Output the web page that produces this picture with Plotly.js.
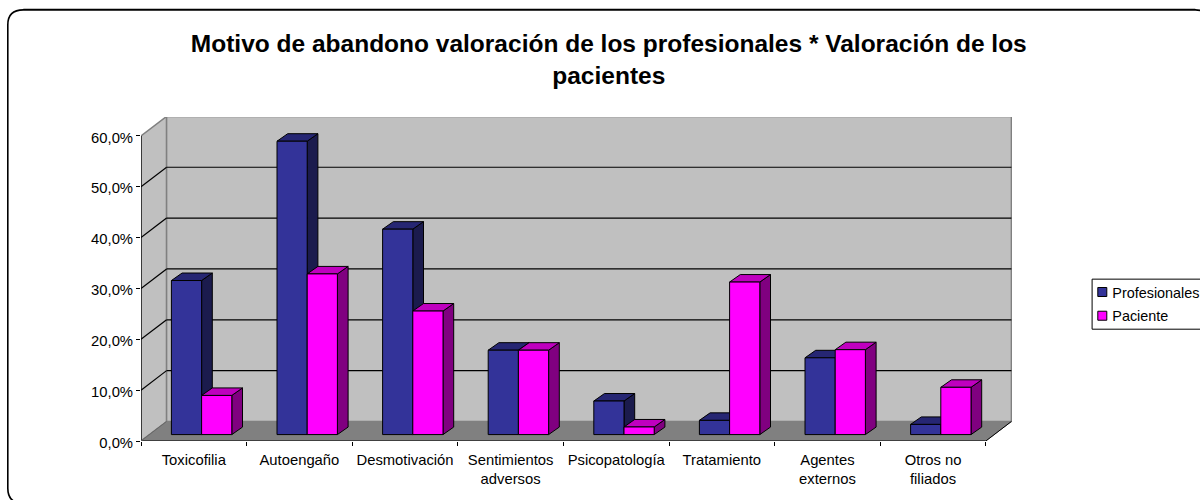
<!DOCTYPE html>
<html>
<head>
<meta charset="utf-8">
<script src="https://cdn.plot.ly/plotly-3.0.1.min.js"></script>
<style>html,body{margin:0;padding:0;background:#fff;overflow:hidden}</style>
</head>
<body>
<div id="chart" style="width:1200px;height:500px"></div>
<script>
const categories = ["Toxicofilia","Autoengaño","Desmotivación","Sentimientos<br>adversos","Psicopatología","Tratamiento","Agentes<br>externos","Otros no<br>filiados"];
const profesionales = [30.3, 57.7, 40.4, 16.6, 6.6, 2.8, 15.1, 2.0];
const paciente = [7.7, 31.6, 24.3, 16.6, 1.5, 30.0, 16.7, 9.3];
const yTicks = [0, 10, 20, 30, 40, 50, 60];
const yTickLabels = ["0,0%", "10,0%", "20,0%", "30,0%", "40,0%", "50,0%", "60,0%"];
const seriesNames = ["Profesionales", "Paciente"];

// Pixel layout of the pseudo-3D box
const W = 1200, H = 500;
const L = 140.7, R = 1011.7, T = 117, B = 440.7;
const catPx = 105.6, pctPx = 5.08;
const nCat = categories.length;
const xMax = (R - L) / catPx, yMax = (B - T) / pctPx;
const depthX = 25.6 / catPx, depthY = 19.5 / pctPx;      // wall depth
const barDX = 10.7 / catPx, barDY = 7.5 / pctPx;         // bar depth
const barW = 30.2 / catPx;
const centerShift = 7.8 / catPx, baseLift = 6.4 / pctPx; // bars stand mid-floor

const colors = {
  wall: "#C0C0C0", floor: "#808080", edge: "#808080",
  blue: "#333399", blueSide: "#1B1B4D", blueTop: "#262673",
  pink: "#FF00FF", pinkSide: "#800080", pinkTop: "#BF00BF"
};

const poly = (pts, fill, line, width) => ({
  type: "path", xref: "x", yref: "y", layer: "below",
  path: "M" + pts.map(p => p[0] + "," + p[1]).join("L") + "Z",
  fillcolor: fill, line: {color: line, width: width === undefined ? 1 : width}
});
const seg = (x0, y0, x1, y1, color, width) => ({
  type: "line", xref: "x", yref: "y", layer: "below",
  x0, y0, x1, y1, line: {color, width}
});

const shapes = [];
// walls and floor
shapes.push(poly([[0,0],[0,60],[depthX,60+depthY],[depthX,depthY]], colors.wall, colors.edge, 1.5));
shapes.push(poly([[depthX,depthY],[depthX,60+depthY],[nCat+depthX,60+depthY],[nCat+depthX,depthY]], colors.wall, colors.edge, 1.5));
shapes.push(poly([[0,0],[depthX,depthY],[nCat+depthX,depthY],[nCat,0]], colors.floor, colors.floor, 1));
// gridlines
yTicks.slice(1, -1).forEach(v => {
  shapes.push(seg(0, v, depthX, v + depthY, "#000", 1.2));
  shapes.push(seg(depthX, v + depthY, nCat + depthX, v + depthY, "#000", 1.2));
});
// front axis lines
shapes.push(seg(0, 0, 0, 60, "#000", 1.2));
shapes.push(seg(0, 0, nCat, 0, "#000", 1.2));
shapes.push(seg(nCat, 0, nCat + depthX, depthY, "#000", 1));
shapes.push(seg(0, 0, depthX, depthY, "#666", 1));

// 3D side and top faces of the bars, derived from the values
const barCentre = i => i + 0.5 + centerShift;
function faces(values, leftOf, side, top) {
  values.forEach((v, i) => {
    const x0 = leftOf(i), x1 = x0 + barW;
    const y0 = baseLift, y1 = baseLift + v;
    shapes.push(poly([[x1,y0],[x1,y1],[x1+barDX,y1+barDY],[x1+barDX,y0+barDY]], side, "#000", 1));
    shapes.push(poly([[x0,y1],[x0+barDX,y1+barDY],[x1+barDX,y1+barDY],[x1,y1]], top, "#000", 1));
  });
}
faces(profesionales, i => barCentre(i) - barW, colors.blueSide, colors.blueTop);
faces(paciente, i => barCentre(i), colors.pinkSide, colors.pinkTop);

// chart frame and legend box, in page pixels
const px = x => (x - L) / (R - L);
const py = y => (B - y) / (B - T);
const frame = (color, width) => ({
  type: "path", xref: "paper", yref: "paper", layer: "below",
  path: `M${px(7.5)},${py(25)} Q${px(7.5)},${py(10)} ${px(23)},${py(10)} L${px(1195)},${py(10)} Q${px(1210)},${py(10)} ${px(1210)},${py(25)} L${px(1210)},${py(488)} Q${px(1210)},${py(503)} ${px(1195)},${py(503)} L${px(23)},${py(503)} Q${px(7.5)},${py(503)} ${px(7.5)},${py(488)} Z`,
  line: {color, width}
});
shapes.unshift(frame("#000", 1.6));
shapes.unshift({type:"line", xref:"paper", yref:"paper", layer:"below",
  x0:px(23), x1:px(1195), y0:py(8.6), y1:py(8.6), line:{color:"#BDBDBD", width:1}});
shapes.push({type:"rect", xref:"paper", yref:"paper", layer:"below",
  x0:px(1091.8), x1:px(1215), y0:py(279), y1:py(329), line:{color:"#000", width:1}, fillcolor:"#fff"});

const trace = (name, values, leftOf, color) => ({
  type: "bar", name, legendgroup: name,
  x: values.map((v, i) => leftOf(i) + barW / 2),
  y: values, base: values.map(() => baseLift), width: barW,
  marker: {color, line: {color: "#000", width: 1}}, hoverinfo: "y+name"
});

const font = "Liberation Sans, Arial, sans-serif";
const data = [
  trace(seriesNames[0], profesionales, i => barCentre(i) - barW, colors.blue),
  trace(seriesNames[1], paciente, barCentre, colors.pink)
];
const layout = {
  width: W, height: H, autosize: false,
  paper_bgcolor: "#fff", plot_bgcolor: "rgba(0,0,0,0)",
  font: {family: font, size: 14.8, color: "#000"},
  barmode: "overlay",
  margin: {l: L, r: W - R, t: T, b: H - B, pad: 0, autoexpand: false},
  title: {
    text: "<b>Motivo de abandono valoración de los profesionales * Valoración de los<br>pacientes</b>",
    font: {family: font, size: 24.5, color: "#000"},
    x: px(608.5), xref: "paper", xanchor: "center",
    y: 1 - 52 / H, yref: "container", yanchor: "top"
  },
  xaxis: {
    range: [0, xMax], showgrid: false, zeroline: false, showline: false,
    tickmode: "array", tickvals: categories.map((c, i) => i + 0.5), ticktext: categories,
    ticks: "outside", ticklen: 5, tickcolor: "rgba(0,0,0,0)", tickangle: 0,
    minor: {tickmode: "array", tickvals: categories.map((c, i) => i).concat([nCat]),
            ticks: "outside", ticklen: 4, tickcolor: "#000", tickwidth: 1, showgrid: false},
    fixedrange: true
  },
  yaxis: {
    range: [0, yMax], showgrid: false, zeroline: false, showline: false,
    tickmode: "array", tickvals: yTicks, ticktext: yTickLabels,
    ticks: "outside", ticklen: 4, tickcolor: "#000", tickwidth: 1, fixedrange: true
  },
  showlegend: true,
  legend: {
    x: px(1072), xanchor: "left", y: py(276), yanchor: "top",
    bgcolor: "rgba(0,0,0,0)", borderwidth: 0,
    font: {family: font, size: 14.4, color: "#000"},
    traceorder: "grouped", tracegroupgap: 2, itemwidth: 30,
    itemclick: false, itemdoubleclick: false
  },
  shapes
};
Plotly.newPlot("chart", data, layout, {displayModeBar: false, responsive: false}).then(() => {
  // compact square legend swatches, next to their labels
  document.querySelectorAll(".legend .legendpoints path").forEach(p => {
    p.setAttribute("transform", "translate(30,0) scale(0.75)");
    p.style.vectorEffect = "non-scaling-stroke";
  });
  // tick labels sit slightly below their ticks
  document.querySelectorAll(".ytick text").forEach(t => {
    t.setAttribute("y", parseFloat(t.getAttribute("y")) + 1.5);
  });
});
</script>
</body>
</html>
